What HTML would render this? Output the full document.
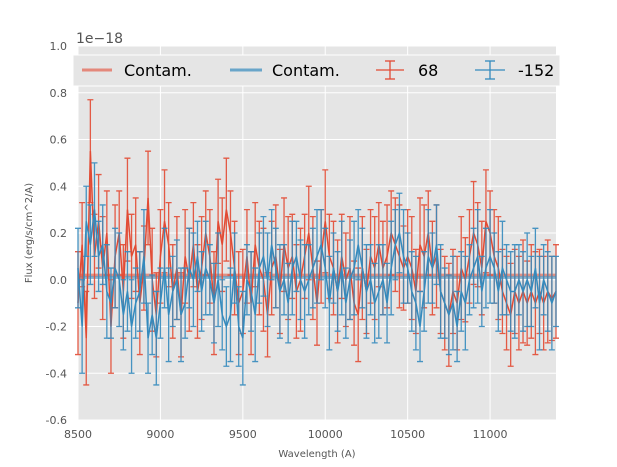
<!DOCTYPE html>
<html><head><meta charset="utf-8"><style>
body{margin:0;background:#fff}
svg{display:block;font-family:"DejaVu Sans","Liberation Sans",sans-serif}
</style></head><body>
<svg id="chart" width="617" height="467">
<rect x="78" y="46" width="478" height="374" fill="#e5e5e5"/>
<g id="grid"></g><g id="ticks"></g><g id="series"></g>
<text x="76" y="43" font-size="14" fill="#555">1e−18</text>
<text x="317" y="457" font-size="10" fill="#555" text-anchor="middle">Wavelength (A)</text>
<text transform="translate(32,233) rotate(-90)" font-size="10" fill="#555" text-anchor="middle">Flux (erg/s/cm^2/A)</text>
<g>
<rect x="73" y="55" width="487" height="31" fill="#e5e5e5" stroke="#fff"/>
<g><line x1="82" y1="70" x2="112" y2="70" stroke="#e24a33" stroke-opacity="0.6" stroke-width="3"/><text x="124" y="76" font-size="16" fill="#000">Contam.</text></g>
<g><line x1="230" y1="70" x2="262" y2="70" stroke="#348abd" stroke-opacity="0.7" stroke-width="3"/><text x="272" y="76" font-size="16" fill="#000">Contam.</text></g>
<g stroke="#e24a33" stroke-width="1.3"><line x1="376" y1="70" x2="404" y2="70"/><line x1="390" y1="61" x2="390" y2="79"/><line x1="385" y1="61" x2="395" y2="61"/><line x1="385" y1="79" x2="395" y2="79"/><text x="418" y="76" font-size="16" fill="#000" stroke="none">68</text></g>
<g stroke="#348abd" stroke-width="1.3"><line x1="475" y1="70" x2="505" y2="70"/><line x1="490" y1="61" x2="490" y2="79"/><line x1="485" y1="61" x2="495" y2="61"/><line x1="485" y1="79" x2="495" y2="79"/><text x="518" y="76" font-size="16" fill="#000" stroke="none">-152</text></g>
</g>
</svg>
<script>
const xStart = 8500, xStep = 25;
const xTicks = [8500, 9000, 9500, 10000, 10500, 11000];
const yTicks = [-0.6, -0.4, -0.2, 0.0, 0.2, 0.4, 0.6, 0.8, 1.0];
const redFlux = [-0.10,0.15,-0.25,0.55,0.10,0.25,0.05,0.20,-0.20,0.10,
0.20,-0.05,0.30,0.10,0.15,-0.10,0.05,0.35,0.00,-0.15,
0.10,0.25,0.15,-0.05,0.05,-0.15,0.10,0.00,0.15,-0.05,
0.05,0.20,0.10,-0.10,0.25,0.15,0.30,0.20,0.05,-0.10,
-0.05,0.10,-0.10,0.15,0.05,0.00,-0.15,0.05,0.10,-0.05,
0.15,0.05,0.10,-0.05,0.00,0.10,0.20,0.05,-0.10,0.10,
0.25,0.10,0.05,-0.05,0.10,0.00,0.05,-0.10,-0.15,0.05,
-0.05,0.10,0.05,0.15,0.05,0.10,0.20,0.15,0.10,0.05,
0.10,0.05,-0.05,0.15,0.10,0.20,0.05,0.10,-0.05,-0.10,
-0.15,-0.05,-0.10,0.05,0.00,0.10,0.20,0.15,0.05,0.25,
0.20,0.10,0.05,-0.05,-0.10,-0.15,-0.05,-0.10,-0.05,-0.10,
-0.05,-0.10,-0.05,-0.10,-0.05,-0.08,-0.05];
const blueFlux = [0.05,-0.20,0.25,0.15,0.30,0.10,0.15,-0.05,-0.10,0.05,
0.00,-0.15,-0.05,-0.20,-0.10,-0.05,0.10,-0.25,-0.15,-0.25,
-0.10,0.05,-0.15,-0.05,0.00,-0.15,-0.10,0.05,0.00,0.10,
-0.05,0.05,0.00,-0.10,0.00,-0.15,-0.20,-0.15,0.05,-0.20,
-0.25,0.00,-0.05,-0.15,0.05,0.10,0.00,0.15,0.05,-0.05,
0.00,-0.10,0.05,0.10,0.00,-0.05,0.00,0.05,0.10,0.15,
0.05,-0.10,0.05,-0.05,0.05,-0.10,0.00,0.05,0.15,0.05,
-0.05,0.00,-0.10,-0.05,0.00,-0.10,0.05,0.15,0.20,0.10,
0.05,-0.05,-0.10,-0.20,-0.05,0.10,0.05,0.15,-0.05,-0.10,
-0.15,-0.10,-0.20,-0.05,-0.10,0.00,0.05,0.10,-0.05,0.05,
0.10,0.05,-0.05,0.05,0.00,-0.05,-0.05,0.00,-0.05,0.00,
-0.05,0.05,-0.10,0.00,-0.05,-0.10,-0.05];
const redErr = [0.22, 0.18, 0.20];
const blueErr = [0.17, 0.20, 0.15];
const contamLevels = [0.02, 0.01];

const NS = "http://www.w3.org/2000/svg";
const X = v => 78 + (v - 8500) * 478 / 2900;
const Y = v => 46 + (1.0 - v) * 374 / 1.6;
function mk(tag, attrs, parent) { const e = document.createElementNS(NS, tag); for (const k in attrs) e.setAttribute(k, attrs[k]); parent.appendChild(e); return e; }
const grid = document.getElementById('grid'), ticks = document.getElementById('ticks'), ser = document.getElementById('series');
xTicks.forEach(t => {
  const l = mk('line', {x1: X(t), x2: X(t), y1: 46, y2: 420, stroke: '#fff', 'stroke-width': 1}, grid);
  
  
  const tx = mk('text', {x: X(t), y: 438, 'font-size': 11, fill: '#555', 'text-anchor': 'middle'}, ticks);
  tx.textContent = t;
  
  
});
yTicks.forEach(t => {
  const l = mk('line', {x1: 78, x2: 556, y1: Y(t), y2: Y(t), stroke: '#fff', 'stroke-width': 1}, grid);
  
  
  const tx = mk('text', {x: 67, y: Y(t) + 4, 'font-size': 11, fill: '#555', 'text-anchor': 'end'}, ticks);
  tx.textContent = t.toFixed(1);
  
  
});
const colors = ['#e24a33', '#348abd'];
contamLevels.forEach((c, i) => {
  const l = mk('line', {x1: 78, x2: 556, y1: Y(c), y2: Y(c), stroke: colors[i], 'stroke-width': 3, 'stroke-opacity': 0.55}, ser);
  
  
});
function drawSeries(vals, errs, color, name) {
  const g = mk('g', {stroke: color, 'stroke-width': 1.3, fill: 'none'}, ser);
  
  
  let d = '';
  vals.forEach((v, i) => {
    const x = X(xStart + i * xStep), e = errs[i % errs.length];
    const y1 = Y(v - e), y2 = Y(v + e);
    const eb = mk('path', {d: `M${x},${y1}V${y2}M${x-3},${y1}H${x+3}M${x-3},${y2}H${x+3}`, 'stroke-opacity': 0.9}, g);
    
    
    d += (i ? 'L' : 'M') + x + ',' + Y(v);
  });
  const p = mk('path', {d: d, 'stroke-width': 1.5}, g);
  
  
}
drawSeries(redFlux, redErr, '#e24a33', 'series-68');
drawSeries(blueFlux, blueErr, '#348abd', 'series-152');
</script>
</body></html>
